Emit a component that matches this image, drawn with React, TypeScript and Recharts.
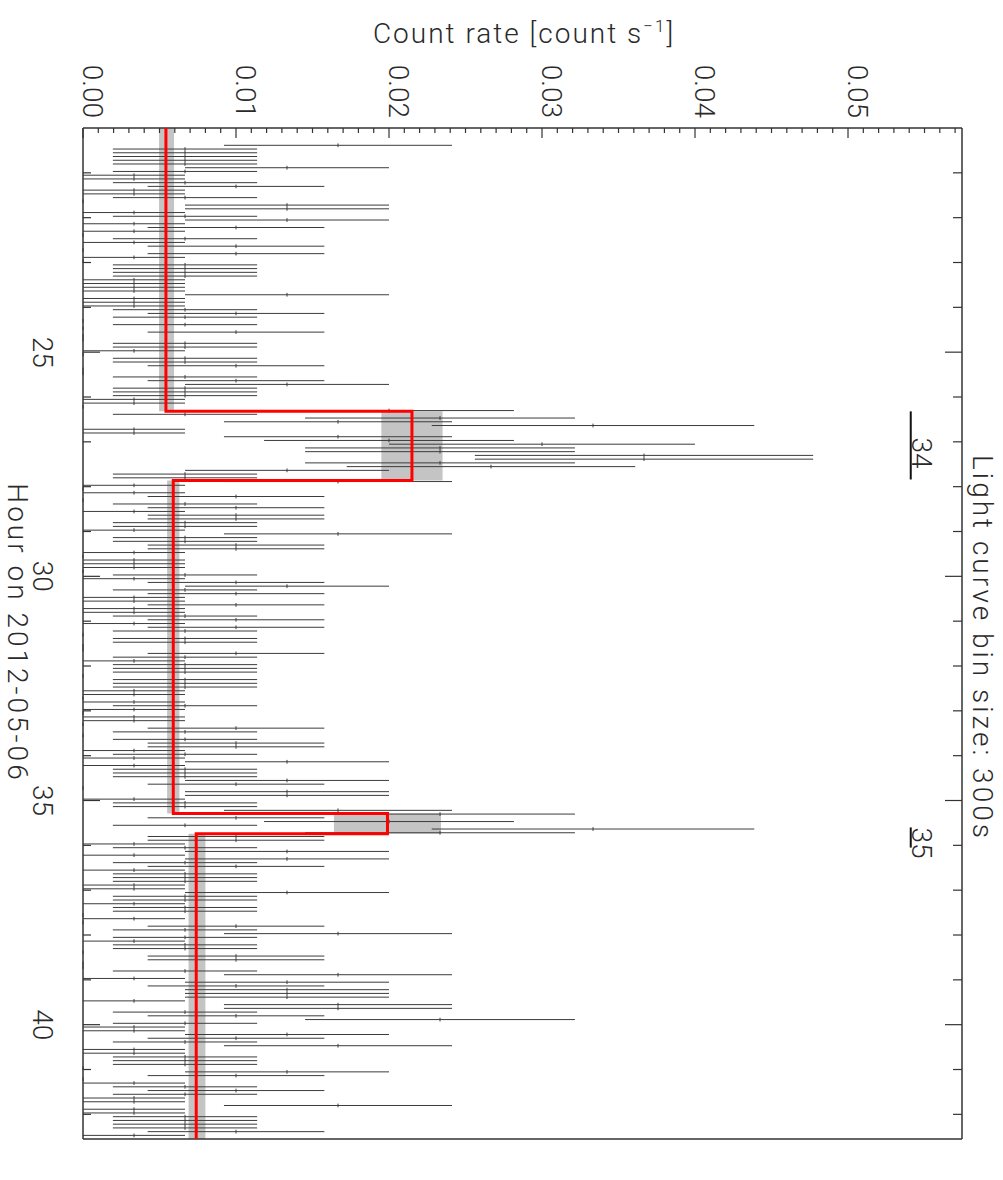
import React from "react";
import {
  ScatterChart,
  Scatter,
  XAxis,
  YAxis,
  ErrorBar,
  ReferenceArea,
  ReferenceLine,
} from "recharts";

// counts in each 300 s bin, in time order
const COUNTS = [
  5, 2, 2, 2, 2, 2, 4, 2, 1, 1, 2, 3, 1, 1, 2, 0, 4, 4, 1, 2, 4, 1, 3,
  1, 0, 2, 1, 3, 0, 3, 1, 0, 2, 2, 2, 2, 1, 1, 1, 1, 4, 1, 1, 1, 2, 3, 2, 0, 2, 0, 3,
  0, 0, 2, 2, 1, 0, 2, 2, 3, 0, 0, 2, 3, 4, 2, 2, 2, 1, 1, 0, 6, 2, 7, 5, 10,
  1, 1, 5, 6, 9, 7, 7, 11, 11, 7, 8, 4, 2, 2, 5, 1, 0, 1, 3, 0, 2, 3, 1, 3, 3, 2,
  2, 1, 5, 2, 2, 3, 3, 1, 0, 1, 1, 1, 0, 2, 1, 3, 4, 2, 3, 1, 1, 3, 1, 1, 2, 3, 1,
  3, 2, 0, 2, 2, 0, 0, 3, 2, 1, 2, 2, 2, 0, 2, 2, 2, 1, 1, 0, 1, 2, 1, 0, 1, 1, 0, 3,
  2, 0, 2, 3, 3, 1, 2, 1, 4, 1, 2, 2, 2, 4, 3, 0, 4, 4, 1, 2, 2, 5, 7, 3, 6, 2, 10,
  7, 3, 3, 1, 2, 4, 1, 4, 2, 3, 1, 2, 2, 2, 1, 1, 4, 2, 2, 1, 2, 2, 0, 1, 0, 3, 2, 5,
  2, 1, 2, 2, 0, 3, 3, 0, 0, 2, 5, 1, 4, 3, 4, 4, 4, 1, 5, 5, 2, 3, 7, 2, 1, 1, 4, 3,
  2, 5, 1, 1, 2, 2, 2, 0, 4, 3, 0, 1, 2, 3, 2, 1, 1, 5, 1, 1, 2, 2, 2, 2, 3, 1,
];
const BIN_SECONDS = 300;
const FIRST_BIN_HOUR = 20.386; // centre of the first bin

// Bayesian blocks: span in hours, rate and its uncertainty band
const BLOCK_START = [20.0, 26.32, 27.86, 35.29, 35.74];
const BLOCK_END = [26.32, 27.86, 35.29, 35.74, 42.55];
const BLOCK_RATE = [0.00542, 0.0215, 0.0059, 0.0199, 0.0074];
const BLOCK_LO = [0.00497, 0.0195, 0.0055, 0.0164, 0.0069];
const BLOCK_HI = [0.00595, 0.0235, 0.0063, 0.0234, 0.008];

// flare markers
const FLARE_LABELS = ["34", "35"];
const FLARE_START = [26.32, 35.6];
const FLARE_END = [27.84, 36.05];
const FLARE_TEXT_HOUR = [27.25, 35.95];
const FLARE_RATE = 0.0541;

const RATE_MAJOR = [0, 0.01, 0.02, 0.03, 0.04, 0.05];
const RATE_LABELS = ["0.00", "0.01", "0.02", "0.03", "0.04", "0.05"];
const HOUR_MAJOR = [25, 30, 35, 40];
const HOUR_LABELS = ["25", "30", "35", "40"];

const RATE_MAX = 0.05745;
const HOUR_MIN = 20;
const HOUR_MAX = 42.55;

const rateTicks = Array.from({ length: 58 }, (_, i) => i / 1000);
const hourTicks = Array.from({ length: 22 }, (_, i) => 21 + i);

const FONT = "Roboto, 'DejaVu Sans', sans-serif";
const INK = "#2a2a2a";
const AXIS = "#333";

const halfBinHours = BIN_SECONDS / 2 / 3600;
const bins = COUNTS.map((n, i) => ({
  hour: FIRST_BIN_HOUR + (i * BIN_SECONDS) / 3600,
  rate: n / BIN_SECONDS,
  rateErr: Math.sqrt(n) / BIN_SECONDS,
  hourErr: halfBinHours,
}));

const steps = BLOCK_RATE.flatMap((r, i) => [
  { rate: r, hour: BLOCK_START[i] },
  { rate: r, hour: BLOCK_END[i] },
]);

const flareText = FLARE_LABELS.map((label, i) => ({
  rate: FLARE_RATE + 0.0001,
  hour: FLARE_TEXT_HOUR[i],
  label,
}));

const majorIndex = (list: number[], v: number) =>
  list.findIndex((m) => Math.abs(m - v) < 1e-9);

const Nothing = () => <g />;

const labelText = {
  fontSize: 28,
  fontWeight: 300,
  fontFamily: FONT,
  fill: INK,
};

function TopTick(props: any) {
  const { x, y, payload } = props;
  const k = majorIndex(RATE_MAJOR, payload.value);
  const len = k >= 0 ? 10 : 5;
  return (
    <g>
      <line x1={x} y1={y} x2={x} y2={y + len} stroke={AXIS} strokeWidth={1.2} />
      {k >= 0 && (
        <text
          x={x}
          y={y - 10}
          transform={`rotate(90 ${x} ${y - 10})`}
          textAnchor="end"
          {...labelText}
        >
          {RATE_LABELS[k]}
        </text>
      )}
    </g>
  );
}

function BottomTick(props: any) {
  const { x, y, payload } = props;
  const len = majorIndex(RATE_MAJOR, payload.value) >= 0 ? 10 : 5;
  return <line x1={x} y1={y} x2={x} y2={y - len} stroke={AXIS} strokeWidth={1.2} />;
}

function LeftTick(props: any) {
  const { x, y, payload } = props;
  const k = majorIndex(HOUR_MAJOR, payload.value);
  const len = k >= 0 ? 17 : 8;
  return (
    <g>
      <line x1={x} y1={y} x2={x + len} y2={y} stroke={AXIS} strokeWidth={1.2} />
      {k >= 0 && (
        <text
          x={x - 50}
          y={y}
          transform={`rotate(90 ${x - 50} ${y})`}
          textAnchor="middle"
          {...labelText}
        >
          {HOUR_LABELS[k]}
        </text>
      )}
    </g>
  );
}

function RightTick(props: any) {
  const { x, y, payload } = props;
  const len = majorIndex(HOUR_MAJOR, payload.value) >= 0 ? 17 : 9;
  return <line x1={x} y1={y} x2={x - len} y2={y} stroke={AXIS} strokeWidth={1.2} />;
}

function FlareLabel(props: any) {
  const { cx, cy, payload } = props;
  return (
    <text
      x={cx}
      y={cy}
      transform={`rotate(90 ${cx} ${cy})`}
      textAnchor="middle"
      {...labelText}
    >
      {payload.label}
    </text>
  );
}

const rotated = (left: number, top: number): React.CSSProperties => ({
  position: "absolute",
  left,
  top,
  transform: "translate(-50%, -50%) rotate(90deg)",
  whiteSpace: "nowrap",
  fontSize: 28,
  fontWeight: 300,
  letterSpacing: 3,
});

export default function App() {
  return (
    <div
      style={{
        position: "absolute",
        left: 0,
        top: 0,
        width: 1003,
        height: 1180,
        background: "#fff",
        fontFamily: FONT,
        color: INK,
      }}
    >
      <ScatterChart
        width={1003}
        height={1180}
        margin={{ top: 127, right: 40, bottom: 40, left: 82 }}
      >
        <XAxis
          type="number"
          dataKey="rate"
          orientation="top"
          domain={[0, RATE_MAX]}
          ticks={rateTicks}
          interval={0}
          height={1}
          tickSize={0}
          tickMargin={0}
          tick={<TopTick />}
          axisLine={{ stroke: AXIS, strokeWidth: 1.5 }}
          allowDataOverflow
        />
        <XAxis
          xAxisId="bottom"
          type="number"
          orientation="bottom"
          domain={[0, RATE_MAX]}
          ticks={rateTicks}
          interval={0}
          height={1}
          tickSize={0}
          tickMargin={0}
          tick={<BottomTick />}
          axisLine={{ stroke: AXIS, strokeWidth: 1.5 }}
          allowDataOverflow
        />
        <YAxis
          type="number"
          dataKey="hour"
          domain={[HOUR_MIN, HOUR_MAX]}
          reversed
          ticks={hourTicks}
          interval={0}
          width={1}
          tickSize={0}
          tickMargin={0}
          tick={<LeftTick />}
          axisLine={{ stroke: AXIS, strokeWidth: 1.5 }}
          allowDataOverflow
        />
        <YAxis
          yAxisId="right"
          type="number"
          orientation="right"
          domain={[HOUR_MIN, HOUR_MAX]}
          reversed
          ticks={hourTicks}
          interval={0}
          width={1}
          tickSize={0}
          tickMargin={0}
          tick={<RightTick />}
          axisLine={{ stroke: AXIS, strokeWidth: 1.5 }}
          allowDataOverflow
        />

        {BLOCK_RATE.map((_, i) => (
          <ReferenceArea
            key={`band-${i}`}
            x1={BLOCK_LO[i]}
            x2={BLOCK_HI[i]}
            y1={BLOCK_START[i]}
            y2={BLOCK_END[i]}
            fill="#c4c4c4"
            fillOpacity={1}
            stroke="none"
          />
        ))}

        <Scatter data={bins} shape={<Nothing />} isAnimationActive={false}>
          <ErrorBar
            dataKey="rateErr"
            direction="x"
            width={0}
            stroke="#3c3c3c"
            strokeWidth={1}
            isAnimationActive={false}
          />
          <ErrorBar
            dataKey="hourErr"
            direction="y"
            width={0}
            stroke="#3c3c3c"
            strokeWidth={1}
            isAnimationActive={false}
          />
        </Scatter>

        <Scatter
          data={steps}
          shape={<Nothing />}
          line={{ stroke: "#ff0000", strokeWidth: 3 }}
          isAnimationActive={false}
        />

        {FLARE_LABELS.map((_, i) => (
          <ReferenceLine
            key={`flare-${i}`}
            segment={[
              { x: FLARE_RATE, y: FLARE_START[i] },
              { x: FLARE_RATE, y: FLARE_END[i] },
            ]}
            stroke="#111"
            strokeWidth={2}
          />
        ))}
        <Scatter data={flareText} shape={<FlareLabel />} isAnimationActive={false} />
      </ScatterChart>

      <div
        style={{
          position: "absolute",
          left: 524,
          top: 33,
          transform: "translate(-50%, -50%)",
          whiteSpace: "nowrap",
          fontSize: 28,
          fontWeight: 300,
          letterSpacing: 2,
        }}
      >
        Count rate [count s<sup style={{ fontSize: 17 }}>−1</sup>]
      </div>
      <div style={rotated(17, 633)}>Hour on 2012-05-06</div>
      <div style={rotated(982, 648)}>Light curve bin size: 300s</div>
    </div>
  );
}
